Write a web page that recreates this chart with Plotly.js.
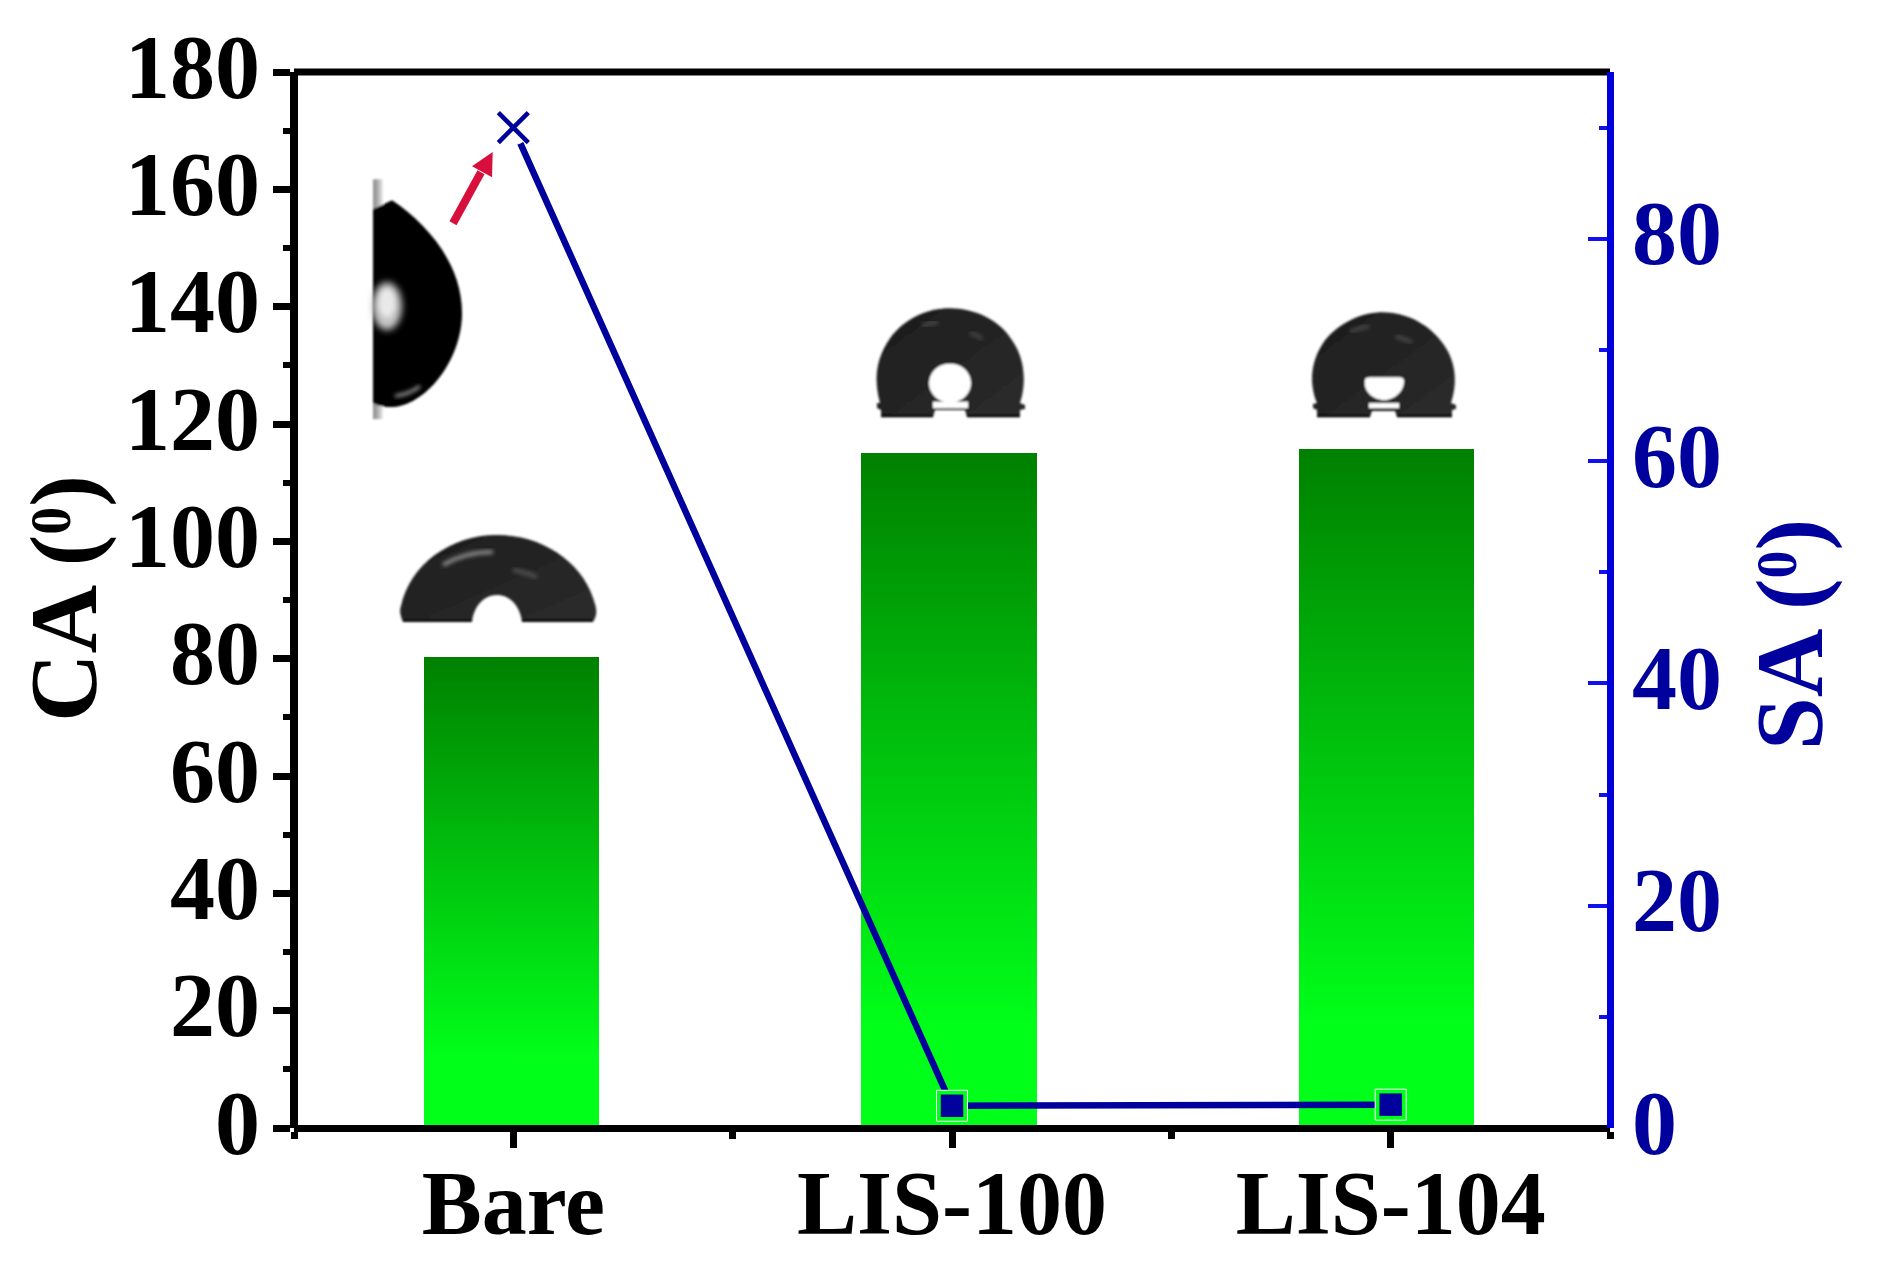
<!DOCTYPE html>
<html>
<head>
<meta charset="utf-8">
<script src="https://cdn.plot.ly/plotly-3.0.1.min.js"></script>
<style>html,body{margin:0;padding:0;background:#fff}</style>
</head>
<body>
<div id="chart" style="width:1884px;height:1270px"></div>
<script>
// ---- data ----
const categories = ['Bare', 'LIS-100', 'LIS-104'];
const caValues = [80.2, 115.1, 115.7];
const saValues = [90, 2.0, 2.1];
const saSymbols = ['x-thin', 'square', 'square'];

// ---- styling ----
const FONT = 'Liberation Serif, Times New Roman, serif';
const NAVY = '#00009c';
const BLUE = '#1010f0';
const LIME = '#00ff19';
const L = 294, R = 1610, T = 71.7, B = 1128.3;
const px = x => (x - L) / (R - L);
const py = y => (B - y) / (B - T);
const DEGREE = '<span style="font-size:56px;baseline-shift:26px">0</span>';

const dropletSvg = `<svg xmlns="http://www.w3.org/2000/svg" width="1316" height="1056.6" viewBox="${L} ${T} ${R-L} ${B-T}">
<defs>
<filter id="b" x="-10%" y="-10%" width="120%" height="120%"><feGaussianBlur stdDeviation="0.9"/></filter>
<filter id="h" x="-30%" y="-30%" width="160%" height="160%"><feGaussianBlur stdDeviation="2.2"/></filter>
<filter id="h2" x="-50%" y="-50%" width="200%" height="200%"><feGaussianBlur stdDeviation="3.5"/></filter>
<linearGradient id="d1" x1="0" x2="1" y1="0" y2="1"><stop offset="0" stop-color="#1c1c1c"/><stop offset="1" stop-color="#2c2c2c"/></linearGradient>
<linearGradient id="w" x1="0" x2="1" y1="0" y2="0"><stop offset="0" stop-color="#8c8c8c"/><stop offset="0.45" stop-color="#aaa"/><stop offset="1" stop-color="#eee"/></linearGradient>
</defs>
<g filter="url(#b)">
<rect x="373" y="179" width="10" height="240" fill="url(#w)"/>
<path d="M373 209 L392 200 C425 222 462 262 462 313 C462 360 425 407 390 407 C382 407 377 405 373 403 Z" fill="#020202"/>
</g>
<ellipse cx="387" cy="306" rx="15" ry="24" fill="#c8c8c8" filter="url(#h2)"/>
<ellipse cx="387" cy="303" rx="8" ry="14" fill="#ffffff" opacity="0.6" filter="url(#h)"/>
<path d="M395 396 Q410 394 420 386" stroke="#aaa" stroke-width="3" fill="none" filter="url(#h)"/>
<path d="M453 223 L481 172" stroke="#d80f3c" stroke-width="8" fill="none"/>
<path d="M492.7 151.7 L472 166 L492 177 Z" fill="#d80f3c"/>
<g filter="url(#b)">
<path d="M403 621.7 C399 614 400 608 401 606 C410 565 450 535 497 535 C545 535 585 565 595 604 C597 610 597 616 593 621.7 L522 621.7 C520 606 510 595 497 595 C484 595 474 606 472 621.7 Z" fill="url(#d1)"/>
<path d="M403 620.5 L472 620.5 M522 620.5 L593 620.5" stroke="#000" stroke-width="2.5"/>
<path d="M877 403 L880 403 C874 380 875 360 890 338 C905 318 927 308 950 308 C975 308 1000 320 1012 340 C1026 360 1026 385 1020 403 L1025 405 L1025 409 L1020 410 L1020 417 L967 417 L965 410 L935 410 L933 417 L881 417 L881 410 L877 408 Z" fill="url(#d1)"/>
<ellipse cx="950" cy="383" rx="21" ry="19.5" fill="#fff"/>
<rect x="933" y="401.5" width="35" height="6.5" fill="#fff"/>
<path d="M881 416 L933 416 M967 416 L1020 416" stroke="#000" stroke-width="2.5"/>
<path d="M1313 404 L1317 403 C1308 380 1312 358 1325 340 C1340 322 1362 312 1383 312 C1405 312 1428 323 1442 342 C1456 360 1458 382 1451 403 L1456 405 L1456 409 L1452 410 L1452 417 L1397 417 L1395 411 L1372 411 L1370 417 L1317 417 L1317 410 L1313 408 Z" fill="url(#d1)"/>
<path d="M1365 380 Q1365 377 1370 377 L1399 377 Q1404 377 1404 381 C1404 392 1394 400 1384 400 C1374 400 1363 392 1365 380 Z" fill="#fff"/>
<rect x="1369" y="403" width="30" height="5" fill="#fff"/>
<path d="M1317 416 L1370 416 M1397 416 L1452 416" stroke="#000" stroke-width="2.5"/>
</g>
<path d="M443 565 Q465 552 493 552" stroke="#9a9a9a" stroke-width="3.5" fill="none" filter="url(#h)"/>
<path d="M513 570 Q525 572 537 577" stroke="#555" stroke-width="4" fill="none" filter="url(#h)"/>
<path d="M922 325 Q930 323 938 322" stroke="#555" stroke-width="3" fill="none" filter="url(#h)"/>
<path d="M970 333 Q978 335 982 339" stroke="#555" stroke-width="3" fill="none" filter="url(#h)"/>
<path d="M1350 331 Q1360 328 1369 326" stroke="#555" stroke-width="3" fill="none" filter="url(#h)"/>
<path d="M1396 336 Q1404 339 1412 342" stroke="#555" stroke-width="3" fill="none" filter="url(#h)"/>
</svg>`;

const traces = [
  { type: 'bar', name: 'CA', x: categories, y: caValues, width: 0.4, offset: [-0.204, -0.2065, -0.2097],
    marker: { color: '#00c010', line: { width: 0 } }, xaxis: 'x', yaxis: 'y', hoverinfo: 'x+y' },
  { type: 'scatter', mode: 'lines', name: 'SA', x: categories, y: saValues,
    line: { color: NAVY, width: 6.5 }, xaxis: 'x', yaxis: 'y2', hoverinfo: 'skip' },
  { type: 'scatter', mode: 'markers', name: 'SA gap', x: categories, y: saValues,
    marker: { symbol: ['circle', 'square', 'square'], size: [34, 31, 31], color: ['#fff', LIME, LIME], opacity: 1 },
    xaxis: 'x', yaxis: 'y2', hoverinfo: 'skip' },
  { type: 'scatter', mode: 'markers', name: 'SA points', x: categories, y: saValues,
    marker: { symbol: saSymbols, size: [30, 22.5, 22.5], color: NAVY, opacity: 1, line: { color: NAVY, width: [4.5, 0, 0] } },
    xaxis: 'x', yaxis: 'y2', hoverinfo: 'x+y' }
];

const layout = {
  width: 1884, height: 1270, autosize: false,
  margin: { l: L, r: 1884 - R, t: T, b: 1270 - B, pad: 0 },
  paper_bgcolor: '#fff', plot_bgcolor: '#fff',
  showlegend: false, bargap: 0,
  xaxis: {
    type: 'category', categoryorder: 'array', categoryarray: categories,
    range: [-0.5, 2.5], showgrid: false, zeroline: false,
    anchor: 'free', position: 0,
    showline: true, linecolor: '#000', linewidth: 7,
    ticks: 'outside', ticklen: 16, tickwidth: 7, tickcolor: '#000',
    ticklabelstandoff: -22,
    tickfont: { family: FONT, size: 90, color: '#000', weight: 700 },
    minor: { tickmode: 'array', tickvals: [-0.5, 0.5, 1.5, 2.5], ticks: 'outside', ticklen: 7, tickwidth: 7, tickcolor: '#000', showgrid: false }
  },
  yaxis: {
    range: [0, 180], dtick: 20, showgrid: false, zeroline: false,
    anchor: 'free', position: 0,
    showline: true, linecolor: '#000', linewidth: 8,
    ticks: 'outside', ticklen: 17, tickwidth: 7, tickcolor: '#000',
    ticklabelstandoff: -5, ticklabelshift: -6,
    tickfont: { family: FONT, size: 90, color: '#000', weight: 700 },
    minor: { dtick: 10, ticks: 'outside', ticklen: 7, tickwidth: 6, tickcolor: '#000', showgrid: false }
  },
  yaxis2: {
    overlaying: 'y', side: 'right', range: [0, 95], dtick: 20, showgrid: false, zeroline: false,
    anchor: 'free', position: 1,
    showline: true, linecolor: '#0000d8', linewidth: 7,
    ticks: 'inside', ticklen: 19, tickwidth: 4, tickcolor: BLUE,
    ticklabelshift: -6,
    tickfont: { family: FONT, size: 90, color: NAVY, weight: 700 },
    minor: { dtick: 10, ticks: 'inside', ticklen: 8, tickwidth: 4, tickcolor: BLUE, showgrid: false }
  },
  shapes: [
    { type: 'line', xref: 'paper', yref: 'paper', x0: 0, x1: 1, y0: 1, y1: 1, layer: 'below', line: { color: '#000', width: 7 } }
  ],
  annotations: [
    { xref: 'paper', yref: 'paper', x: px(64), y: py(599), xanchor: 'center', yanchor: 'middle', textangle: -90,
      showarrow: false, text: 'CA (' + DEGREE + ')', font: { family: FONT, size: 95, color: '#000', weight: 700 } },
    { xref: 'paper', yref: 'paper', x: px(1790), y: py(635), xanchor: 'center', yanchor: 'middle', textangle: -90,
      showarrow: false, text: 'SA (' + DEGREE + ')', font: { family: FONT, size: 95, color: NAVY, weight: 700 } }
  ],
  images: [{
    source: 'data:image/svg+xml;charset=utf-8,' + encodeURIComponent(dropletSvg),
    xref: 'paper', yref: 'paper', x: 0, y: 1, sizex: 1, sizey: 1,
    xanchor: 'left', yanchor: 'top', sizing: 'stretch', layer: 'above'
  }]
};

Plotly.newPlot('chart', traces, layout, { displayModeBar: false, staticPlot: true }).then(gd => {
  // vertical green fade on each bar, which Plotly has no attribute for
  const NS = 'http://www.w3.org/2000/svg';
  const svg = gd.querySelector('.main-svg');
  const defs = svg.querySelector('defs');
  const g = document.createElementNS(NS, 'linearGradient');
  g.setAttribute('id', 'barFade');
  g.setAttribute('x1', '0'); g.setAttribute('x2', '0');
  g.setAttribute('y1', '0'); g.setAttribute('y2', '1');
  [['0', '#008000'], ['0.85', LIME], ['1', LIME]].forEach(([o, c]) => {
    const s = document.createElementNS(NS, 'stop');
    s.setAttribute('offset', o); s.setAttribute('stop-color', c);
    g.appendChild(s);
  });
  defs.appendChild(g);
  gd.querySelectorAll('.barlayer .point path').forEach(p => { p.style.fill = 'url(#barFade)'; });
});
</script>
</body>
</html>
